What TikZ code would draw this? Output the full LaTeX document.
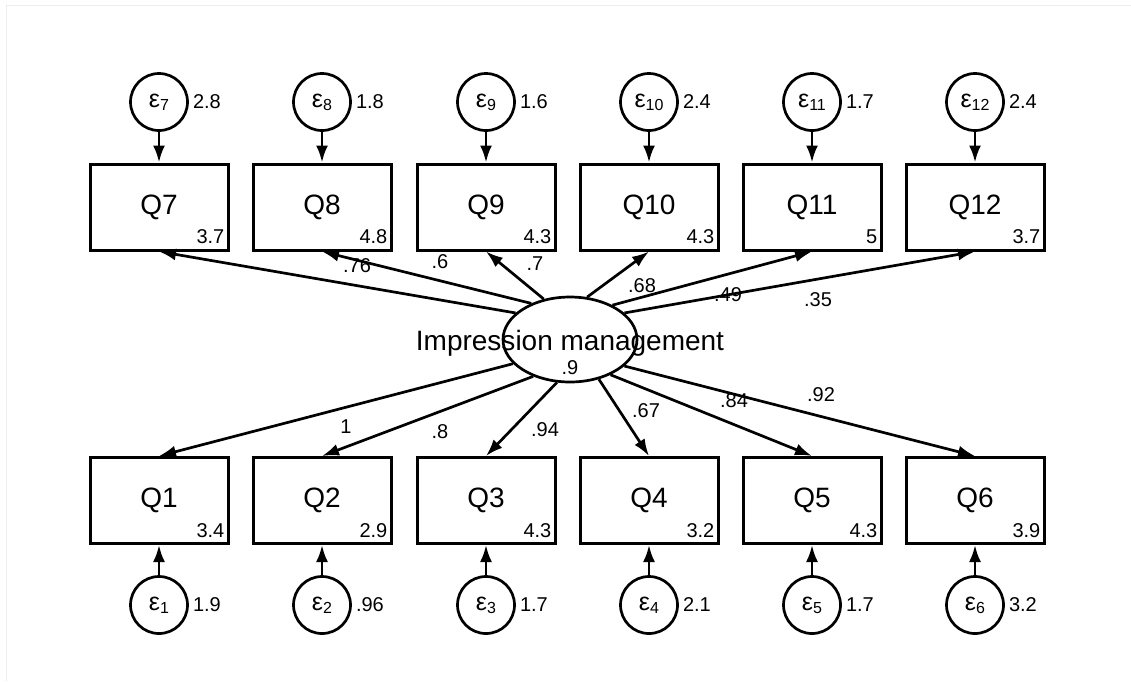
\documentclass[tikz,border=0pt]{standalone}
\usepackage{fontspec}
\setmainfont{Liberation Sans}
\usetikzlibrary{shapes.geometric,arrows.meta}
% error term label: epsilon with a lowered index
\newcommand\epslabel[1]{{\fontsize{25}{25}\selectfont ε}\raisebox{-3pt}{\fontsize{16}{16}\selectfont #1}}
\begin{document}
\begin{tikzpicture}[x=1pt,y=-1pt,
  obs/.style={draw, line width=3pt, minimum width=138pt, minimum height=86pt,
    inner sep=0pt, font=\fontsize{28}{28}\selectfont},
  errterm/.style={draw, circle, line width=2.7pt, minimum size=57pt, inner sep=0pt},
  latent/.style={draw, ellipse, line width=2.7pt, minimum width=134pt,
    minimum height=85pt, inner sep=0pt},
  num/.style={inner sep=0pt, font=\fontsize{20}{20}\selectfont},
  loading/.style={line width=2.7pt, -{Latex[length=17pt,width=12pt]}}]
\useasboundingbox (0,0) rectangle (1131,681);
\fill[white] (0,0) rectangle (1131,681);
\draw[black!7, line width=1pt] (6,681) -- (6,5) -- (1131,5);

% latent factor
\node[latent] (IM) at (570,339.5) {};

% upper row of indicators with their error terms
\foreach \q/\x/\m/\v in {7/159/3.7/2.8, 8/322/4.8/1.8, 9/486/4.3/1.6,
    10/649/4.3/2.4, 11/812/5/1.7, 12/975/3.7/2.4}{
  \node[obs] (Q\q) at (\x,207) {Q\q};
  \node[num, anchor=base east] (m\q) at ([xshift=-5pt,yshift=8pt]Q\q.south east) {\m};
  \node[errterm] (e\q) at (\x,102) {\epslabel{\q}};
  \node[num, anchor=west] (v\q) at ([xshift=4pt]e\q.east) {\v};
  \draw[loading] (e\q.south) -- (Q\q.north);
}

% lower row of indicators with their error terms
\foreach \q/\x/\m/\v in {1/159/3.4/1.9, 2/322/2.9/.96, 3/486/4.3/1.7,
    4/649/3.2/2.1, 5/812/4.3/1.7, 6/975/3.9/3.2}{
  \node[obs] (Q\q) at (\x,500.5) {Q\q};
  \node[num, anchor=base east] (m\q) at ([xshift=-5pt,yshift=8pt]Q\q.south east) {\m};
  \node[errterm] (e\q) at (\x,605) {\epslabel{\q}};
  \node[num, anchor=west] (v\q) at ([xshift=4pt]e\q.east) {\v};
  \draw[loading] (e\q.north) -- (Q\q.south);
}

% factor loadings
\foreach \q/\a in {7/154.6, 8/137.6, 9/123, 10/68, 11/39.4, 12/26.6}
  \draw[loading] (IM.\a) -- (Q\q.south);
\foreach \q/\a in {1/203.7, 2/225.4, 3/253, 4/306, 5/319.8, 6/334}
  \draw[loading] (IM.\a) -- (Q\q.north);

\node[inner sep=0pt, anchor=base, font=\fontsize{28}{28}\selectfont] (IMtext)
  at (570,350) {Impression management};
\node[num] (IMvar) at (570,368) {.9};

% loading estimates
\node[num] (c7) at (357,266) {.76};
\node[num] (c8) at (440,262) {.6};
\node[num] (c9) at (535,264) {.7};
\node[num] (c10) at (642,286) {.68};
\node[num] (c11) at (728,295) {.49};
\node[num] (c12) at (818,300) {.35};
\node[num] (c1) at (346,427) {1};
\node[num] (c2) at (440,432) {.8};
\node[num] (c3) at (545,430) {.94};
\node[num] (c4) at (646,411) {.67};
\node[num] (c5) at (734,401) {.84};
\node[num] (c6) at (821,395) {.92};
\end{tikzpicture}
\end{document}
